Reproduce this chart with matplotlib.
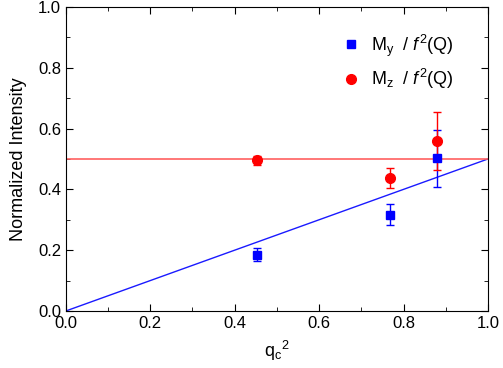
import matplotlib.pyplot as plt
import numpy as np
from matplotlib.ticker import MultipleLocator
from matplotlib.lines import Line2D

plt.rcParams['font.family'] = ['Liberation Sans', 'DejaVu Sans']
plt.rcParams['mathtext.fontset'] = 'custom'
plt.rcParams['mathtext.rm'] = 'Liberation Sans'
plt.rcParams['mathtext.it'] = 'Liberation Sans:italic'

qc2 = [0.452, 0.768, 0.880]
my = [0.185, 0.317, 0.502]
my_err = [0.022, 0.035, 0.093]
mz = [0.495, 0.438, 0.560]
mz_err = [0.016, 0.032, 0.095]

fit_x = [0.0, 1.0]
fit_my = [0.0, 0.5]
fit_mz = [0.5, 0.5]

fig = plt.figure(figsize=(5.03, 3.68), dpi=100)
ax = fig.add_axes([0.131, 0.155, 0.839, 0.826])

ax.plot(fit_x, fit_my, color='#1a1aff', lw=1)
ax.plot(fit_x, fit_mz, color='#ff6060', lw=1.2)
ax.errorbar(qc2, my, yerr=my_err, fmt='s', color='#0000ff', ms=5.5, capsize=3,
            elinewidth=1)
ax.errorbar(qc2, mz, yerr=mz_err, fmt='o', color='#ff0000', ms=7, capsize=3,
            elinewidth=1)

ax.set_xlim(0, 1)
ax.set_ylim(0, 1)
ax.xaxis.set_major_locator(MultipleLocator(0.2))
ax.yaxis.set_major_locator(MultipleLocator(0.2))
ax.xaxis.set_minor_locator(MultipleLocator(0.1))
ax.yaxis.set_minor_locator(MultipleLocator(0.1))
ax.tick_params(which='both', direction='in', top=True, right=True, labelsize=12)
ax.tick_params(which='major', length=5)
ax.tick_params(which='minor', length=3)
ax.set_xlabel(r'q$_\mathrm{c}$$^2$', fontsize=13, labelpad=6)
ax.set_ylabel('Normalized Intensity', fontsize=13, labelpad=8)

handles = [Line2D([], [], ls='none', marker='s', color='#0000ff', ms=5.5),
           Line2D([], [], ls='none', marker='o', color='#ff0000', ms=7)]
labels = [r'M$_\mathrm{y}$  / $f^2$(Q)', r'M$_\mathrm{z}$  / $f^2$(Q)']
ax.legend(handles, labels, loc='upper left', bbox_to_anchor=(0.615, 0.97),
          frameon=False, fontsize=13, handlelength=1.0, handletextpad=0.6,
          labelspacing=0.45)

fig.savefig('out.png', dpi=100)
